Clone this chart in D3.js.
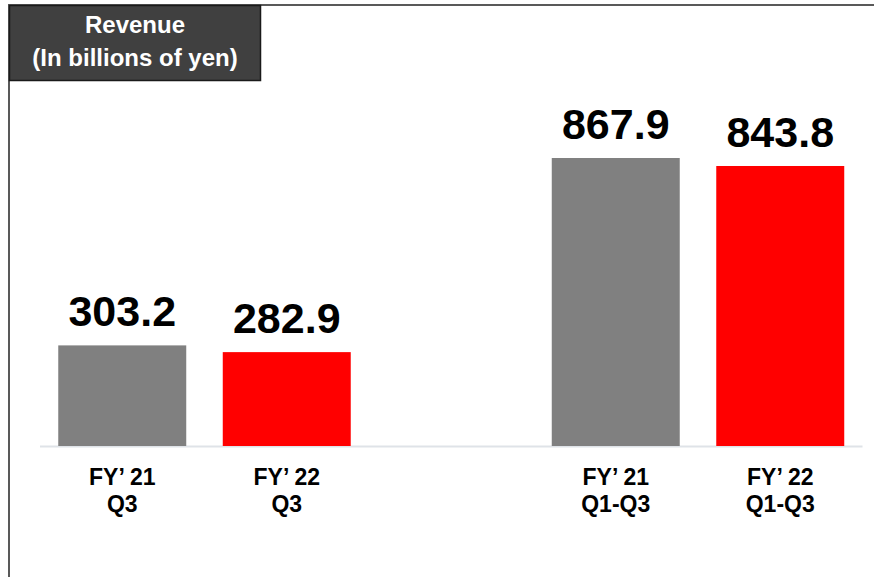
<!DOCTYPE html>
<html>
<head>
<meta charset="utf-8">
<script src="https://cdn.jsdelivr.net/npm/d3@7"></script>
<style>
  body { margin: 0; background: #fff; }
  svg { display: block; font-family: "Liberation Sans", Arial, sans-serif; }
</style>
</head>
<body>
<svg class="chart"></svg>
<script>
var width = 874,
    height = 577;

// data
var categories = ["FY’ 21|Q3", "FY’ 22|Q3", "gap", "FY’ 21|Q1-Q3", "FY’ 22|Q1-Q3"];
var values = [303.2, 282.9, null, 867.9, 843.8];
var barColors = ["#808080", "#ff0000", null, "#808080", "#ff0000"];
var titleLines = ["Revenue", "(In billions of yen)"];

var baseY = 446;

var x = d3.scaleBand()
    .domain(categories)
    .range([40, 862.5])
    .paddingInner(0.222)
    .paddingOuter(0.111);

var y = d3.scaleLinear()
    .domain([0, 867.9])
    .range([baseY, 158]);

var chart = d3.select(".chart") //Set chart size
    .attr("width", width)
    .attr("height", height);

// frame lines (top and left)
chart.append("line")
    .attr("x1", 8).attr("x2", width)
    .attr("y1", 5).attr("y2", 5)
    .attr("stroke", "#595959").attr("stroke-width", 2);
chart.append("line")
    .attr("x1", 9).attr("x2", 9)
    .attr("y1", 4).attr("y2", height)
    .attr("stroke", "#595959").attr("stroke-width", 2);

// baseline
chart.append("line")
    .attr("x1", x.range()[0]).attr("x2", x.range()[1])
    .attr("y1", baseY + 0.5).attr("y2", baseY + 0.5)
    .attr("stroke", "#dfe3e8").attr("stroke-width", 2);

var data = categories.map(function(c, i) { return {cat: c, value: values[i], color: barColors[i]}; })
    .filter(function(d) { return d.value != null; });

var bar = chart.selectAll("g.bar")
    .data(data)
  .enter().append("g")
    .attr("class", "bar");

bar.append("rect")
    .attr("x", function(d) { return x(d.cat); })
    .attr("y", function(d) { return y(d.value); })
    .attr("width", x.bandwidth())
    .attr("height", function(d) { return baseY - y(d.value); })
    .attr("fill", function(d) { return d.color; });

bar.append("text") //value label above bar
    .attr("x", function(d) { return x(d.cat) + x.bandwidth() / 2; })
    .attr("y", function(d) { return y(d.value) - 19; })
    .attr("text-anchor", "middle")
    .attr("font-size", 43)
    .attr("font-weight", "bold")
    .attr("fill", "#000")
    .text(function(d) { return d.value.toFixed(1); });

// category labels, two lines each
var lab = bar.append("text")
    .attr("text-anchor", "middle")
    .attr("font-size", 23)
    .attr("font-weight", "bold")
    .attr("fill", "#000");
lab.selectAll("tspan")
    .data(function(d) { return d.cat.split("|").map(function(s) { return {s: s, cat: d.cat}; }); })
  .enter().append("tspan")
    .attr("x", function(d) { return x(d.cat) + x.bandwidth() / 2; })
    .attr("y", function(d, i) { return 485 + i * 26.7; })
    .text(function(d) { return d.s; });

// title box
chart.append("rect")
    .attr("x", 9.5).attr("y", 5.5)
    .attr("width", 251).attr("height", 75)
    .attr("fill", "#404040")
    .attr("stroke", "#1a1a1a").attr("stroke-width", 1.5);

chart.append("text")
    .attr("text-anchor", "middle")
    .attr("font-size", 24)
    .attr("font-weight", "bold")
    .attr("fill", "#fff")
    .selectAll("tspan")
    .data(titleLines)
  .enter().append("tspan")
    .attr("x", 135)
    .attr("y", function(d, i) { return 32.5 + i * 33; })
    .text(function(d) { return d; });
</script>
</body>
</html>
